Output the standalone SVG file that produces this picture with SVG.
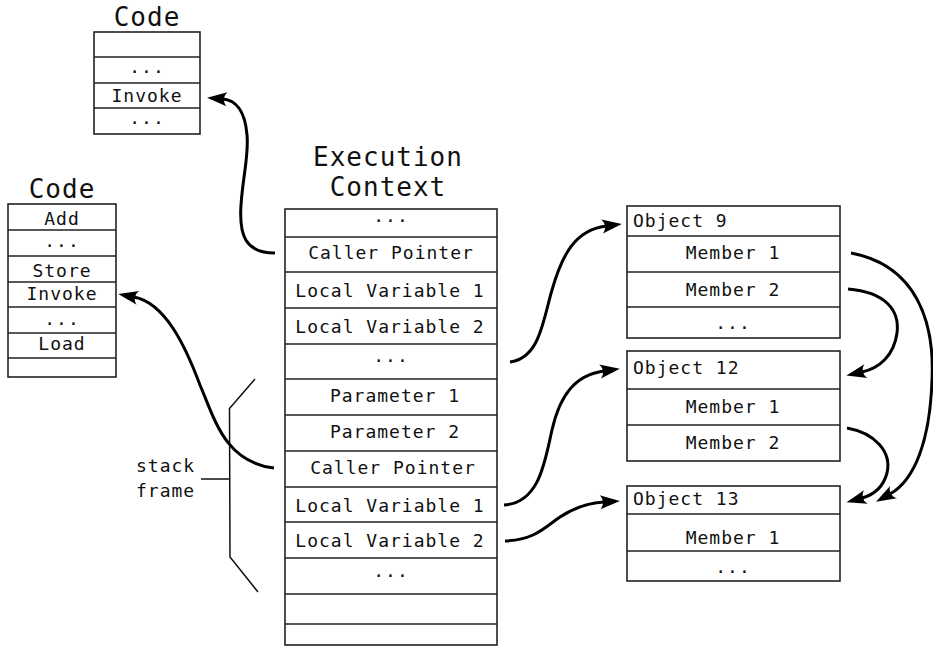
<svg xmlns="http://www.w3.org/2000/svg" width="933" height="648" viewBox="0 0 933 648">
  <style>
    .box { fill: #fff; stroke: #222; stroke-width: 1.6; }
    .sep { stroke: #222; stroke-width: 1.6; fill: none; }
    .t { font-family: "DejaVu Sans Mono", "Liberation Mono", monospace; font-size: 18px; letter-spacing: 1px; fill: #111; }
    .c { text-anchor: middle; }
    .title { font-family: "DejaVu Sans Mono", "Liberation Mono", monospace; font-size: 26px; letter-spacing: 1px; fill: #111; text-anchor: middle; }
    .link { fill: none; stroke: #000; stroke-width: 3; marker-end: url(#head); }
    .brace { fill: none; stroke: #111; stroke-width: 1.5; }
  </style>
  <defs>
    <marker id="head" markerUnits="userSpaceOnUse" markerWidth="24" markerHeight="18" refX="4" refY="0" viewBox="-2 -9 24 18" orient="auto" overflow="visible">
      <path d="M0,-7 L20,0 L0,7 C4,3 4,-3 0,-7 Z" fill="#000"/>
    </marker>
  </defs>

  <rect width="933" height="648" fill="#fff"/>

  <!-- upper code listing -->
  <g id="code-top">
    <text class="title" x="147" y="26">Code</text>
    <rect class="box" x="94" y="32" width="106" height="102"/>
    <path class="sep" d="M94,57H200M94,83H200M94,108H200"/>
    <text class="t c" x="147" y="73">...</text>
    <text class="t c" x="147" y="102">Invoke</text>
    <text class="t c" x="147" y="124">...</text>
  </g>

  <!-- lower code listing -->
  <g id="code-left">
    <text class="title" x="62" y="198">Code</text>
    <rect class="box" x="8" y="204" width="108" height="173"/>
    <path class="sep" d="M8,230H116M8,256H116M8,282H116M8,307H116M8,333H116M8,358H116"/>
    <text class="t c" x="62" y="225">Add</text>
    <text class="t c" x="62" y="247">...</text>
    <text class="t c" x="62" y="277">Store</text>
    <text class="t c" x="62" y="300">Invoke</text>
    <text class="t c" x="62" y="325">...</text>
    <text class="t c" x="62" y="350">Load</text>
  </g>

  <!-- execution context stack -->
  <g id="exec-context">
    <text class="title" x="388" y="166">Execution</text>
    <text class="title" x="388" y="196">Context</text>
    <rect class="box" x="285" y="209" width="212" height="436"/>
    <path class="sep" d="M285,237H497M285,272H497M285,308H497M285,344H497M285,379H497M285,415H497M285,451H497M285,487H497M285,522H497M285,558H497M285,594H497M285,624H497"/>
    <text class="t c" x="391" y="222">...</text>
    <text class="t c" x="391" y="259">Caller Pointer</text>
    <text class="t c" x="390" y="297">Local Variable 1</text>
    <text class="t c" x="390" y="333">Local Variable 2</text>
    <text class="t c" x="391" y="362">...</text>
    <text class="t c" x="395" y="402">Parameter 1</text>
    <text class="t c" x="395" y="438">Parameter 2</text>
    <text class="t c" x="393" y="474">Caller Pointer</text>
    <text class="t c" x="390" y="512">Local Variable 1</text>
    <text class="t c" x="390" y="547">Local Variable 2</text>
    <text class="t c" x="391" y="577">...</text>
  </g>

  <!-- stack frame bracket -->
  <g id="stack-frame">
    <polyline class="brace" points="255,379 229.5,408.5 230,557 258,592"/>
    <line class="brace" x1="201" y1="479" x2="229.5" y2="479"/>
    <text class="t" x="136" y="472">stack</text>
    <text class="t" x="136" y="497">frame</text>
  </g>

  <!-- heap objects -->
  <g id="object-9">
    <rect class="box" x="627" y="206" width="213" height="132"/>
    <path class="sep" d="M627,236H840M627,272H840M627,307H840"/>
    <text class="t" x="633" y="227">Object 9</text>
    <text class="t c" x="733" y="259">Member 1</text>
    <text class="t c" x="733" y="296">Member 2</text>
    <text class="t c" x="733" y="329">...</text>
  </g>

  <g id="object-12">
    <rect class="box" x="627" y="351" width="213" height="110"/>
    <path class="sep" d="M627,389H840M627,425H840"/>
    <text class="t" x="633" y="374">Object 12</text>
    <text class="t c" x="733" y="413">Member 1</text>
    <text class="t c" x="733" y="449">Member 2</text>
  </g>

  <g id="object-13">
    <rect class="box" x="627" y="486" width="213" height="95"/>
    <path class="sep" d="M627,514H840M627,551H840"/>
    <text class="t" x="633" y="505">Object 13</text>
    <text class="t c" x="733" y="544">Member 1</text>
    <text class="t c" x="733" y="573">...</text>
  </g>

  <!-- references -->
  <g id="connectors">
    <path class="link" d="M275,253 C245,253 239,235 241,205 C243,175 249,155 247,135 C245,110 235,100 223,99"/>
    <path class="link" d="M274,468 C225,462 215,420 200,385 C185,345 165,303 134,297"/>
    <path class="link" d="M510,362 C540,358 543,320 552,290 C562,255 575,230 606,226"/>
    <path class="link" d="M504,505 C540,503 545,460 552,430 C560,395 575,375 604,371"/>
    <path class="link" d="M505,541 C535,540 545,527 560,517 C575,507 588,503 604,502"/>
    <path class="link" d="M851,253 C915,265 935,320 932,380 C930,440 915,480 890,494"/>
    <path class="link" d="M848,289 C885,292 900,310 897,333 C894,355 880,368 862,372"/>
    <path class="link" d="M847,428 C875,433 892,452 887,473 C883,488 873,495 862,498"/>
  </g>
</svg>
